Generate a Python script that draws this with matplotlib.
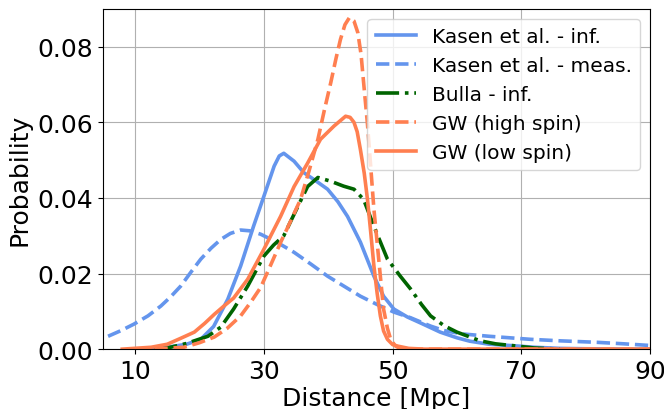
import matplotlib
matplotlib.use("Agg")
import matplotlib.pyplot as plt

kasen_inf_x = [12, 15, 18, 20.2, 22.2, 24.4, 26.4, 28.4, 30, 31.6, 32.4, 33.1, 34.7, 36.2, 38, 39.9, 41.5, 43, 45, 47.1, 48.6, 50.2, 52.3, 54.5, 57.4, 60, 62, 65, 68.8, 72, 76, 80, 90]
kasen_inf_y = [0.0, 0.0005, 0.0013, 0.0026, 0.006, 0.0132, 0.022, 0.0325, 0.0404, 0.0484, 0.0511, 0.0518, 0.0497, 0.0467, 0.0446, 0.0423, 0.039, 0.0351, 0.0283, 0.0193, 0.014, 0.0106, 0.0085, 0.0068, 0.0045, 0.003, 0.0021, 0.0013, 0.0009, 0.0005, 0.0002, 0.0001, 0.0]

kasen_meas_x = [5.8, 7.8, 9.8, 12, 14, 15.5, 17.1, 18.6, 20.2, 21.8, 23.3, 24.8, 26.4, 27.8, 29.5, 32.1, 34.7, 37.3, 39.9, 42.5, 45, 47.6, 50.2, 52.8, 55.9, 58, 61, 65, 71.4, 76, 81.8, 86, 89.7]
kasen_meas_y = [0.0034, 0.0049, 0.0066, 0.0088, 0.0114, 0.0138, 0.0167, 0.0202, 0.0238, 0.0267, 0.029, 0.0306, 0.0315, 0.0313, 0.0304, 0.0282, 0.0256, 0.0225, 0.0193, 0.0166, 0.014, 0.0118, 0.0098, 0.0083, 0.0061, 0.0049, 0.004, 0.0034, 0.0026, 0.0022, 0.0018, 0.0014, 0.001]

bulla_x = [13, 15, 18, 21.3, 23.3, 25.3, 27.5, 30, 31.5, 33.1, 35.3, 36.8, 38.4, 40.4, 42.4, 44, 45.5, 47.1, 49.2, 51.2, 52.8, 54.5, 55.9, 58, 60, 63.6, 66, 68.8, 72, 76]
bulla_y = [0.0, 0.0003, 0.0015, 0.0034, 0.0058, 0.0106, 0.0167, 0.0246, 0.0275, 0.030, 0.0378, 0.043, 0.0454, 0.0444, 0.0431, 0.0423, 0.0396, 0.0325, 0.0238, 0.0193, 0.0159, 0.0118, 0.0088, 0.0062, 0.0045, 0.0022, 0.0014, 0.0009, 0.0003, 0.0]

gw_high_x = [13, 17.6, 20, 22.3, 24.3, 26.4, 28, 29.5, 31, 32.6, 34.2, 35.7, 37, 38.4, 39.4, 40.4, 41.2, 41.9, 42.6, 43.3, 44, 44.6, 45.1, 45.5, 46.1, 46.6, 47.1, 47.7, 48.2, 48.6, 49.2, 49.7, 50.4, 51, 52.5, 90]
gw_high_y = [0.0, 0.0005, 0.0017, 0.0032, 0.0055, 0.0088, 0.0125, 0.0163, 0.022, 0.0282, 0.034, 0.0396, 0.047, 0.0555, 0.0632, 0.0705, 0.0768, 0.0819, 0.0858, 0.0877, 0.0868, 0.0837, 0.078, 0.0705, 0.0595, 0.0483, 0.037, 0.0264, 0.0175, 0.0106, 0.0055, 0.0026, 0.0009, 0.0003, 0.0, 0.0]

gw_low_x = [8, 12.5, 15, 17, 19.2, 20.8, 22.3, 23.8, 25.3, 27.5, 30, 32.6, 34.7, 36.8, 38.8, 40.9, 42.7, 43.4, 44, 44.5, 45, 45.6, 46.1, 46.6, 47.1, 47.6, 48.1, 48.6, 49.2, 50, 50.8, 52.5, 55, 90]
gw_low_y = [0.0, 0.0005, 0.0013, 0.0028, 0.0045, 0.0068, 0.0092, 0.0114, 0.0135, 0.0185, 0.0264, 0.0351, 0.043, 0.0492, 0.0555, 0.059, 0.0616, 0.0613, 0.060, 0.0575, 0.0528, 0.0465, 0.0396, 0.031, 0.022, 0.0148, 0.0088, 0.0048, 0.0026, 0.0012, 0.0008, 0.0002, 0.0, 0.0]

x_ticks = [10, 30, 50, 70, 90]
y_ticks = [0.00, 0.02, 0.04, 0.06, 0.08]

fig = plt.figure(figsize=(6.64, 4.10), dpi=100)
ax = fig.add_axes([0.155, 0.146, 0.824, 0.83])

lw = 2.6
ax.plot(kasen_inf_x, kasen_inf_y, color='cornflowerblue', ls='-', lw=lw, label='Kasen et al. - inf.')
ax.plot(kasen_meas_x, kasen_meas_y, color='cornflowerblue', ls='--', lw=lw, label='Kasen et al. - meas.')
ax.plot(bulla_x, bulla_y, color='darkgreen', ls='-.', lw=lw, label='Bulla - inf.')
ax.plot(gw_high_x, gw_high_y, color='coral', ls='--', lw=lw, label='GW (high spin)')
ax.plot(gw_low_x, gw_low_y, color='coral', ls='-', lw=lw, label='GW (low spin)')

ax.set_xlim(5, 90)
ax.set_ylim(0, 0.09)
ax.set_xticks(x_ticks)
ax.set_yticks(y_ticks)
ax.set_yticklabels([f"{v:.2f}" for v in y_ticks])
ax.tick_params(labelsize=18)
ax.grid(True, color='#b0b0b0', lw=0.8)
ax.set_axisbelow(True)
ax.set_xlabel('Distance [Mpc]', fontsize=18, labelpad=2)
ax.set_ylabel('Probability', fontsize=18)
ax.legend(loc='upper right', fontsize=14.5)

fig.savefig('out.png', dpi=100)
